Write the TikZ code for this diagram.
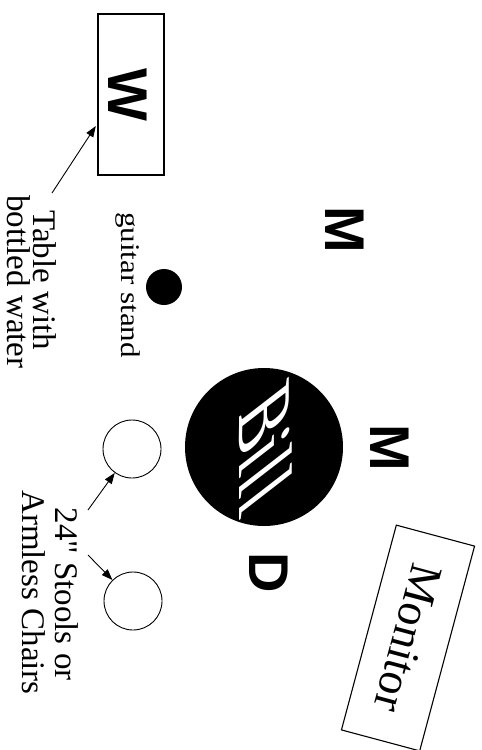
\documentclass[tikz,border=0pt]{standalone}
\usepackage{fontspec}
\setmainfont{Liberation Serif}
\newfontfamily\heavysans{Liberation Sans}
\usetikzlibrary{arrows.meta}
\tikzset{
  bigletter/.style={font=\heavysans\bfseries\fontsize{56}{56}\selectfont, inner sep=0pt, rotate=-90},
  lbl/.style={font=\normalfont\fontsize{33}{33}\selectfont, inner sep=0pt, rotate=-90, anchor=base},
  smalllbl/.style={font=\normalfont\fontsize{27}{27}\selectfont, inner sep=0pt, rotate=-90, anchor=base},
  arr/.style={-{Triangle[length=11pt,width=8pt]}, line width=0.9pt},
  stool/.style={circle, draw, line width=0.9pt, minimum size=58pt, inner sep=0pt},
  boxed/.style={draw, line width=1.1pt, inner sep=0pt}
}
\begin{document}
\begin{tikzpicture}[x=1pt, y=-1pt]
\useasboundingbox (0,0) rectangle (482,750);
% water table
\node[boxed, rotate=-90, minimum width=161pt, minimum height=66pt] (wbox) at (131,94.5) {};
\node[bigletter] (wlet) at (128,95) {W};
% guitar stand
\node[circle, fill=black, minimum size=36pt, inner sep=0pt] (gstand) at (164,287) {};
\node[smalllbl] (glbl) at (121,285) {\scalebox{1.15}[1]{guitar stand}};
% labels
\node[lbl] (tbl1) at (34,280) {Table with};
\node[lbl] (tbl2) at (8,282) {bottled water};
\coordinate (tbltail) at (52,193);
\draw[arr, shorten >=3pt] (tbltail) -- ([yshift=-29pt]wbox.south);
% mics
\node[bigletter] (m1) at (345,230) {M};
\node[bigletter] (m2) at (390,448) {M};
\node[bigletter] (dlet) at (269,572.5) {D};
% Bill
\node[circle, fill=black, minimum size=158pt, inner sep=0pt] (bill) at (264,447) {};
\node[text=white, rotate=-90, xslant=-0.95, inner sep=0pt, font=\normalfont\itshape\fontsize{76}{76}\selectfont] (billtxt) at (266,446) {Bill};
% stools
\node[stool] (stool1) at (132,449) {};
\node[stool] (stool2) at (133,601) {};
\node[lbl] (st1) at (55,594) {24\textquotedbl{} Stools or};
\node[lbl] (st2) at (22,592.5) {Armless Chairs};
\coordinate (sttail1) at (88,510);
\coordinate (sttail2) at (88,555);
\draw[arr] (sttail1) -- (stool1);
\draw[arr] (sttail2) -- (stool2);
% monitor
\node[boxed, rotate=-105, minimum width=212pt, minimum height=81pt, font=\normalfont\upshape\fontsize{46}{46}\selectfont] (monitor) at (408,638) {Monitor};
\end{tikzpicture}
\end{document}
